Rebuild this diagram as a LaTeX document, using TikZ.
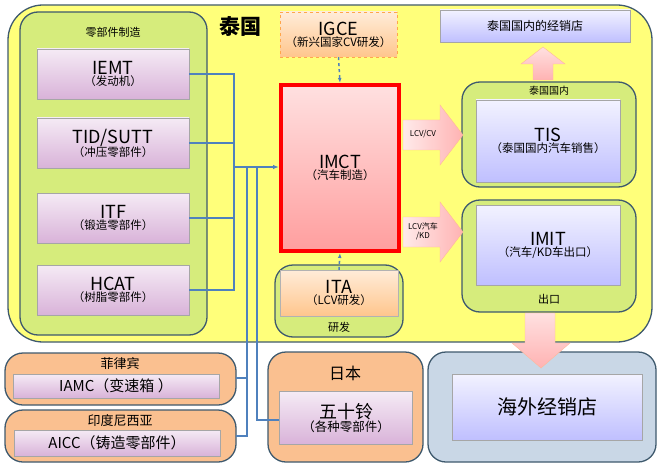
\documentclass[tikz,border=0pt]{standalone}
\usepackage{fontspec}
\setmainfont{Noto Sans CJK SC}
\usetikzlibrary{arrows.meta}
\definecolor{bord}{HTML}{3F5A6E}
\definecolor{thai}{HTML}{FFFF7A}
\definecolor{grn}{HTML}{D6EC7C}
\definecolor{orng}{HTML}{FAC090}
\definecolor{line}{HTML}{4F81BD}
\definecolor{sea}{HTML}{C9D7E6}
\tikzset{
 grp/.style={draw=bord,line width=1.3pt,rounded corners=18pt},
 purp/.style={draw=black!35,top color=violet!8,bottom color=violet!30,align=center,inner sep=0pt},
 blu/.style={draw=black!35,top color=blue!5,bottom color=blue!25,align=center,inner sep=0pt},
 peach/.style={draw=black!30,top color=orange!15,bottom color=orange!45,align=center,inner sep=0pt},
 conn/.style={draw=line,line width=1.5pt},
 fath/.style={draw=orange!60!red!40,left color=red!8,right color=red!30},
 fatv/.style={draw=orange!60!red!40,top color=red!12,bottom color=red!30},
}
\newcommand{\tl}[2]{{\fontsize{18}{20}\selectfont #1}\\[-1pt]{\fontsize{11.5}{13}\selectfont #2}}
\begin{document}
\begin{tikzpicture}[x=1pt,y=-1pt]
\useasboundingbox (0,0) rectangle (660,465);
\fill[white] (0,0) rectangle (660,465);
% groups
\draw[grp,fill=thai,rounded corners=35pt] (8,5) rectangle (652,342);
\draw[grp,fill=grn] (20,12) rectangle (207,335);
\node[font=\fontsize{11}{12}\selectfont] (tparts) at (113,32) {零部件制造};
\node[font=\fontsize{21}{22}\selectfont\bfseries] (tthai) at (240,26) {泰国};
\draw[grp,fill=grn] (275,265) rectangle (403,337);
\draw[grp,fill=grn] (462,82) rectangle (636,187);
\draw[grp,fill=grn] (462,200) rectangle (636,312);
\draw[grp,fill=orng] (5,353) rectangle (236,405);
\draw[grp,fill=orng] (5,410) rectangle (236,462);
\draw[grp,fill=orng] (268,352) rectangle (423,462);
\draw[grp,fill=sea] (428,352) rectangle (656,462);
% fat arrows
\path[fath] (403,120) -- (440,120) -- (440,105) -- (463,135) -- (440,165) -- (440,150) -- (403,150) -- cycle;
\path[fath] (403,217) -- (440,217) -- (440,202) -- (463,232) -- (440,262) -- (440,247) -- (403,247) -- cycle;
\path[fatv] (533,80) -- (533,64) -- (521,64) -- (543,47) -- (565,64) -- (553,64) -- (553,80) -- cycle;
\path[fatv] (525,313) -- (555,313) -- (555,343) -- (570,343) -- (541,368) -- (512,343) -- (525,343) -- cycle;
\node[font=\fontsize{8}{9}\selectfont] (l1) at (423,134) {LCV/CV};
\node[font=\fontsize{8}{9}\selectfont,align=center] (l2) at (423,231) {LCV汽车\\/KD};
% boxes
\node[purp,minimum width=152pt,minimum height=50pt] (iemt) at (113,74) {\tl{IEMT}{（发动机）}};
\node[purp,minimum width=152pt,minimum height=50pt] (tid) at (113,143) {\tl{TID/SUTT}{（冲压零部件）}};
\node[purp,minimum width=152pt,minimum height=50pt] (itf) at (113,218) {\tl{ITF}{（锻造零部件）}};
\node[purp,minimum width=152pt,minimum height=50pt] (hcat) at (113,290) {\tl{HCAT}{（树脂零部件）}};
\node[peach,draw=orange!70,dashed,minimum width=117pt,minimum height=45pt] (igce) at (338.5,34.5) {\tl{IGCE}{（新兴国家CV研发）}};
\node[draw=red,line width=4pt,top color=red!12,bottom color=red!38,minimum width=118pt,minimum height=166pt,align=center,inner sep=0pt] (imct) at (340,168) {\tl{IMCT}{（汽车制造）}};
\node[peach,minimum width=118pt,minimum height=46pt] (ita) at (339,293) {\tl{ITA}{（LCV研发）}};
\node[font=\fontsize{11}{12}\selectfont] (tita) at (339,327) {研发};
\node[blu,minimum width=190pt,minimum height=32pt,font=\fontsize{12}{13}\selectfont] (dom) at (535,26) {泰国国内的经销店};
\node[font=\fontsize{10}{11}\selectfont] (tdom) at (549,91) {泰国国内};
\node[blu,minimum width=144pt,minimum height=82pt] (tis) at (548,141) {\tl{TIS}{（泰国国内汽车销售）}};
\node[blu,minimum width=144pt,minimum height=80pt] (imit) at (548,245) {\tl{IMIT}{（汽车/KD车出口）}};
\node[font=\fontsize{11}{12}\selectfont] (texp) at (549,299) {出口};
\node[font=\fontsize{13}{14}\selectfont] (tph) at (120,364) {菲律宾};
\node[purp,minimum width=206pt,minimum height=24pt,font=\fontsize{15}{16}\selectfont] (iamc) at (116,386) {IAMC（变速箱 ）};
\node[font=\fontsize{13}{14}\selectfont] (tid2) at (120,421) {印度尼西亚};
\node[purp,minimum width=206pt,minimum height=26pt,font=\fontsize{15}{16}\selectfont] (aicc) at (117,443) {AICC（铸造零部件）};
\node[font=\fontsize{16}{17}\selectfont] (tjp) at (345,373) {日本};
\node[purp,minimum width=133pt,minimum height=53pt] (isz) at (346,418) {{\fontsize{18}{20}\selectfont 五十铃}\\[-1pt]{\fontsize{12.5}{14}\selectfont （各种零部件）}};
\node[blu,minimum width=190pt,minimum height=66pt,font=\fontsize{20}{22}\selectfont] (sea) at (547,407) {海外经销店};
% connectors
\coordinate (bus) at (234,167);
\draw[conn] (iemt.east) -| (234,290) -- (hcat.east);
\draw[conn] (tid.east) -- (234,143);
\draw[conn] (itf.east) -- (234,218);
\draw[conn,-{Latex[length=6pt]}] (bus) -- (imct.west|-bus);
\draw[conn] (236,378) -- (247,378) |- (bus);
\draw[conn] (236,436) -- (247,436) -- (247,378);
\draw[conn] (isz.west|-0,420) -| (257,167);
\draw[conn,dashed,-{Latex[length=5pt]}] (igce.south) -- (imct.north);
\draw[conn,dashed,-{Latex[length=5pt]}] (ita.north) -- (imct.south);
\end{tikzpicture}
\end{document}
